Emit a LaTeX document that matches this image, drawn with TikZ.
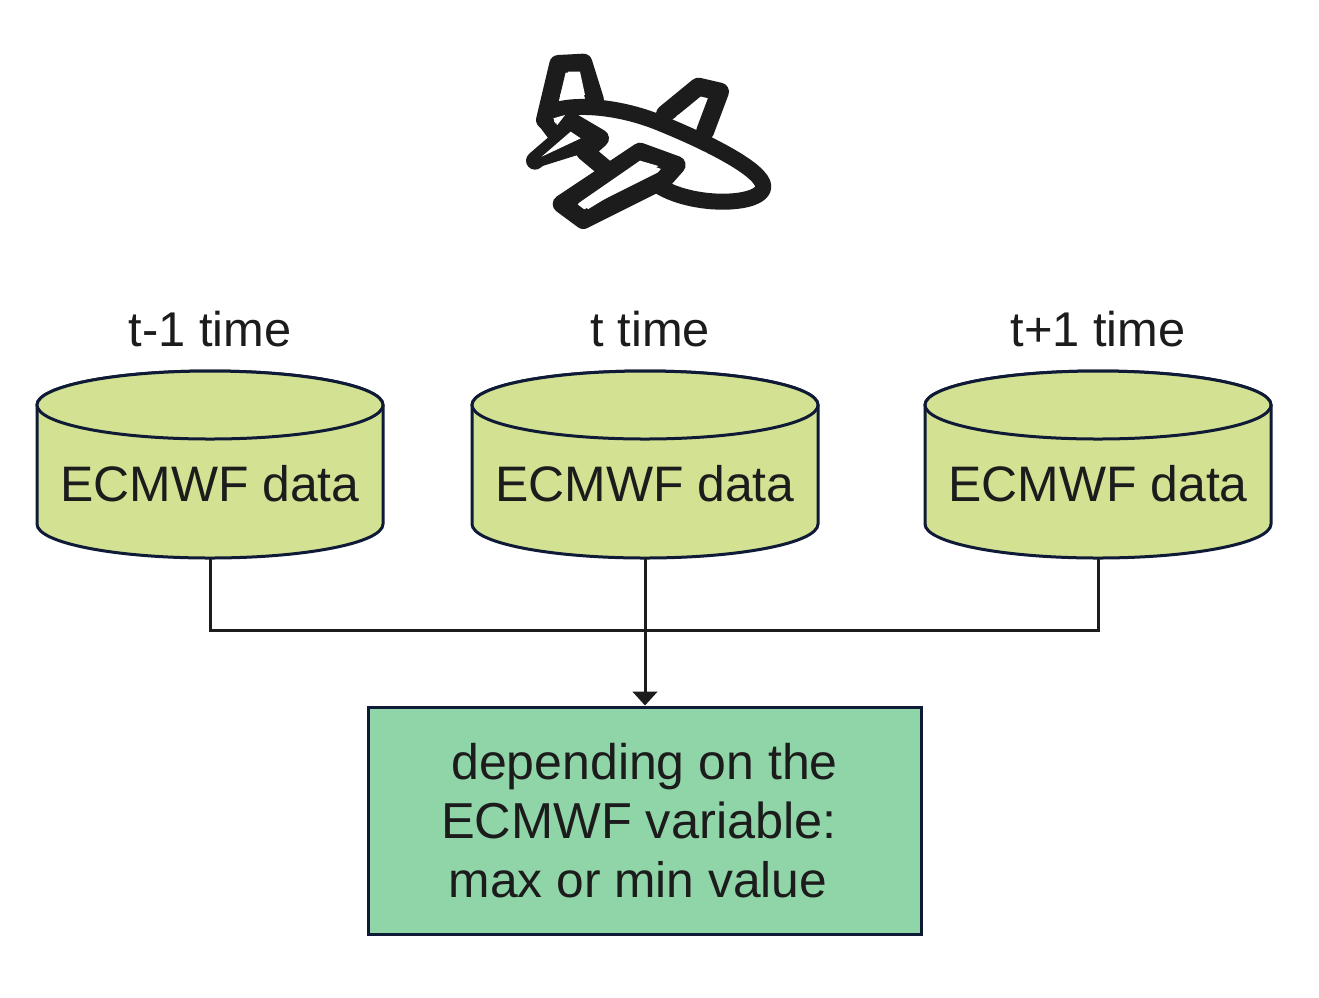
\documentclass[tikz,border=0pt]{standalone}
\usepackage{fontspec}
\setmainfont{Liberation Sans}
\usetikzlibrary{arrows.meta}
\definecolor{cylfill}{HTML}{D3E193}
\definecolor{boxfill}{HTML}{90D5A8}
\definecolor{edge}{HTML}{0E1A36}
\definecolor{ink}{HTML}{1C1C1C}
\tikzset{
  x=.75pt,y=.75pt,
  lbl/.style={font=\fontsize{36.6}{44.25}\selectfont,text=ink,inner sep=0pt},
  datatext/.style={font=\fontsize{37.4}{44.25}\selectfont,text=ink,inner sep=0pt},
  cylshape/.style={draw=edge,line width=2.25pt,fill=cylfill},
  cylnode/.style={datatext,minimum width=259.5pt,minimum height=139.5pt},
  wire/.style={draw=ink,line width=2.25pt},
  planeline/.style={draw=ink,line width=13.5pt,line cap=round,line join=round},
  planehole/.style={fill=white,draw=none}
}
\newcommand{\datacyl}[3]{%
  \path[cylshape] (#2-173,-405) -- (#2-173,-524)
     arc[start angle=180,end angle=360,x radius=173,y radius=34]
     -- (#2+173,-405) arc[start angle=0,end angle=180,x radius=173,y radius=34] -- cycle;
  \path[cylshape] (#2,-405) ellipse[x radius=173,y radius=34];
  \node[cylnode] (#1) at (#2,-465) {\smash{\raisebox{-27pt}{ECMWF data}}};
  \node[lbl,anchor=base] (#1time) at (#2+#3,-346) {\csname lab#1\endcsname};
}
\newcommand{\laba}{t-1 time}
\newcommand{\labb}{t time}
\newcommand{\labc}{t+1 time}
\begin{document}
\begin{tikzpicture}
\useasboundingbox (0,0) rectangle (1319,-997);
\fill[white] (0,0) rectangle (1319,-997);
% plane
\begin{scope}[shift={(500,-40)},x=.25pt,y=-.25pt]
  \path[planeline] (135,240) -- (175,72) -- (250,68) -- (285,180);
  \path[planeline] (495,222) -- (595,140) -- (660,155) -- (615,275);
  \path[planeline,line width=12pt] (140,225) .. controls (180,190) and (330,190) .. (470,245)
     .. controls (620,305) and (790,390) .. (790,440)
     .. controls (790,495) and (590,505) .. (480,440);
  \path[planeline,line width=11pt] (135,245) -- (165,285);
  \path[planeline] (105,362) -- (200,280) -- (195,245);
  \path[planeline,line width=11pt] (105,362) -- (255,315);
  \path[planeline] (215,245) -- (300,295) -- (255,335) -- (315,385);
  \fill[ink] (195,240) -- (300,295) -- (260,335) -- (210,310) -- cycle;
  \path[planeline] (420,335) -- (530,375) -- (490,420) -- (250,540) -- (185,492) -- cycle;
  \path[planehole] (205,95) -- (240,95) -- (255,165) -- (180,168) -- cycle;
  \path[planehole] (530,228) -- (610,175) -- (580,250) -- cycle;
  \path[planehole] (235,490) -- (420,362) -- (475,378) -- (265,507) -- cycle;
  \path[planehole] (125,350) -- (212,275) -- (242,295) -- cycle;
  \path[planehole] (160,235) -- (195,225) -- (172,255) -- cycle;
\end{scope}
% cylinders
\datacyl{a}{210}{0}
\datacyl{b}{645}{5.5}
\datacyl{c}{1098}{0}
% result box
\node[draw=edge,line width=2.25pt,fill=boxfill,text=ink,inner sep=0pt,minimum width=414.75pt,minimum height=170.25pt,align=center,font=\fontsize{37.5}{44.25}\selectfont] (res) at (644.5,-820.5)
  {\makebox[340pt][c]{depending on the}\\
   \makebox[340pt][c]{\fontsize{37.9}{44.25}\selectfont ECMWF variable:\hspace{8.25pt}}\\
   \makebox[340pt][c]{\fontsize{37.3}{44.25}\selectfont max or min value\hspace{9.75pt}}};
% connectors
\coordinate (bus) at (645,-630);
\path[wire] (a.south) |- (bus) -| (c.south);
\path[wire,-{Triangle[width=18.5pt,length=10.5pt]}] (b.south) -- (res.north -| b.south);
\end{tikzpicture}
\end{document}
